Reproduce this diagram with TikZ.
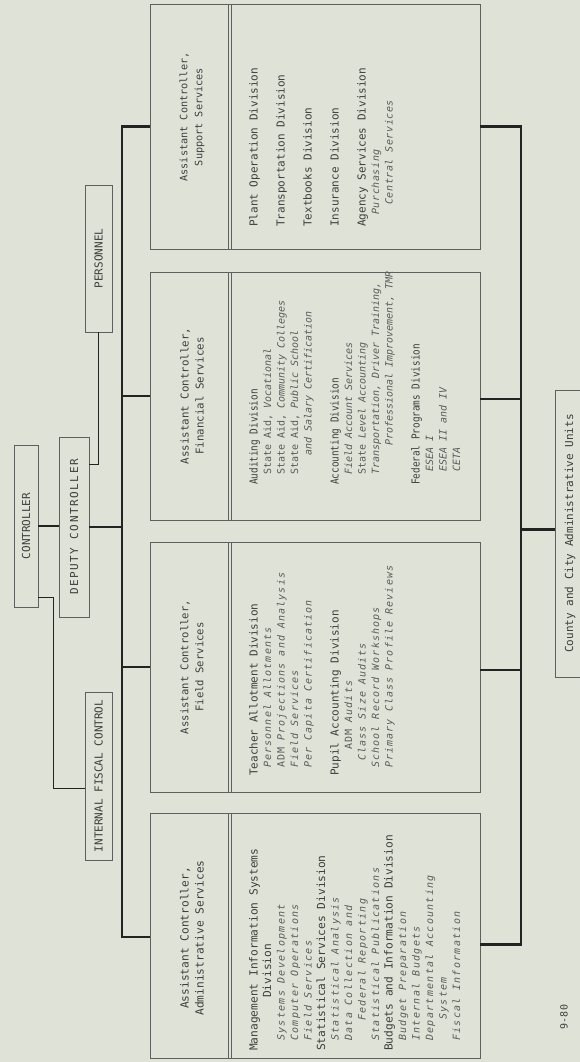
\documentclass[tikz,border=0pt]{standalone}
\usepackage{fontspec}
\usepackage{xcolor}
\usepackage{tikz}
\usetikzlibrary{calc}
\newfontfamily\tw{DejaVu Sans Mono}
\newfontfamily\twc[FakeStretch=0.85]{DejaVu Sans Mono}
\newfontfamily\tws[LetterSpace=14]{DejaVu Sans Mono}
\newfontfamily\twm[LetterSpace=6]{DejaVu Sans Mono}
\newfontfamily\twf[LetterSpace=11]{DejaVu Sans Mono}
\newfontfamily\twa[LetterSpace=13]{DejaVu Sans Mono}
\definecolor{paper}{RGB}{223,227,215}
\definecolor{ink}{RGB}{62,62,62}
\definecolor{boxline}{RGB}{95,95,95}
\definecolor{linkline}{RGB}{35,35,35}
\newcommand{\subfam}{\tw}
\newcommand{\subsize}{10}
\newcommand{\sub}[1]{{\subfam\fontsize{\subsize}{13.5}\selectfont\itshape\color{ink!85} #1}}
\newcommand{\gap}{13.5pt}
\tikzset{
  smallbox/.style={draw=boxline, fill=paper, line width=0.8pt, rotate=90, inner sep=0pt, outer sep=0pt,
    text=ink, font=\tw\fontsize{11}{13.5}\selectfont},
  abox/.style={draw=boxline, fill=paper, line width=0.8pt, rotate=90, minimum height=330pt, outer sep=0pt},
  divline/.style={draw=boxline, line width=0.8pt},
  titletext/.style={rotate=90, align=center, inner sep=0pt, text=ink},
  divtext/.style={rotate=90, align=left, anchor=north west, inner sep=0pt, text=ink},
  mainlink/.style={draw=linkline, line width=2.4pt},
  midlink/.style={draw=linkline, line width=1.6pt},
  sidelink/.style={draw=linkline, line width=0.9pt},
}
\begin{document}
\begin{tikzpicture}[x=1pt,y=-1pt]
        \fill[paper] (0,0) rectangle (580,1062);
        \useasboundingbox (0,0) rectangle (580,1062);
        \clip (0,0) rectangle (580,1062);
        \node[smallbox, minimum width=162pt, minimum height=24pt] (ctrl) at (26,526) {CONTROLLER};
        \node[smallbox, minimum width=180pt, minimum height=30pt, font=\tws\fontsize{11}{13.5}\selectfont] (dep) at (74,527) {DEPUTY CONTROLLER};
        \node[smallbox, minimum width=147pt, minimum height=27pt] (pers) at (98.5,258.5) {PERSONNEL};
        \node[smallbox, minimum width=168pt, minimum height=27pt] (ifc) at (98.5,776) {INTERNAL FISCAL CONTROL};
        \node[smallbox, minimum width=287pt, minimum height=30pt] (cnty) at (570,533.5) {County and City Administrative Units};
        \coordinate (lbus) at (122,0);
        \coordinate (rbus) at (521,0);
        \node[abox, minimum width=245pt] (sup) at (315,126.5) {};
        \node[abox, minimum width=248pt] (fin) at (315,396) {};
        \node[abox, minimum width=250pt] (fld) at (315,667) {};
        \node[abox, minimum width=245pt] (adm) at (315,935.5) {};
        \draw[divline] ([xshift=78pt]sup.north west) -- ([xshift=78pt]sup.north east);
        \draw[divline] ([xshift=81pt]sup.north west) -- ([xshift=81pt]sup.north east);
        \draw[divline] ([xshift=78pt]fin.north west) -- ([xshift=78pt]fin.north east);
        \draw[divline] ([xshift=81pt]fin.north west) -- ([xshift=81pt]fin.north east);
        \draw[divline] ([xshift=78pt]fld.north west) -- ([xshift=78pt]fld.north east);
        \draw[divline] ([xshift=81pt]fld.north west) -- ([xshift=81pt]fld.north east);
        \draw[divline] ([xshift=78pt]adm.north west) -- ([xshift=78pt]adm.north east);
        \draw[divline] ([xshift=81pt]adm.north west) -- ([xshift=81pt]adm.north east);
        \node[titletext, font=\tw\fontsize{10.2}{15}\selectfont] (supT) at (192,117) {Assistant Controller,\\Support Services};
        \node[titletext, font=\tw\fontsize{10.8}{15}\selectfont] (finT) at (192,396) {Assistant Controller,\\Financial Services};
        \node[titletext, font=\tw\fontsize{10.6}{15}\selectfont] (fldT) at (192,667) {Assistant Controller,\\Field Services};
        \node[titletext, font=\tw\fontsize{11.2}{15}\selectfont] (admT) at (192,938) {Assistant Controller,\\Administrative Services};
        \node[divtext, font={\tw\fontsize{11}{13.5}\selectfont\renewcommand{\subfam}{\twm}}] (supD) at (249,227) {%
          Plant Operation Division\\[\gap]
          Transportation Division\\[\gap]
          Textbooks Division\\[\gap]
          Insurance Division\\[\gap]
          Agency Services Division\\
          \sub{\hspace*{12pt}Purchasing}\\
          \sub{\hspace*{22pt}Central Services}};
        \node[divtext, font={\twc\fontsize{11}{13.5}\selectfont}] (finD) at (249,485) {%
          Auditing Division\\
          \sub{\hspace*{10pt}\textup{State Aid,} Vocational}\\
          \sub{\hspace*{10pt}\textup{State Aid,} Community Colleges}\\
          \sub{\hspace*{10pt}\textup{State Aid,} Public School}\\
          \sub{\hspace*{29pt}and Salary Certification}\\[\gap]
          Accounting Division\\
          \sub{\hspace*{10pt}Field Account Services}\\
          \sub{\hspace*{10pt}\textup{State} Level Accounting}\\
          \sub{\hspace*{10pt}Transportation, Driver Training,}\\
          \sub{\hspace*{39pt}Professional Improvement, TMR}\\[\gap]
          Federal Programs Division\\
          \sub{\hspace*{13pt}ESEA I}\\
          \sub{\hspace*{13pt}ESEA II and IV}\\
          \sub{\hspace*{13pt}CETA}};
        \node[divtext, font={\tw\fontsize{11}{13.5}\selectfont\renewcommand{\subfam}{\twf}}] (fldD) at (249,776) {%
          Teacher Allotment Division\\
          \sub{\hspace*{8pt}Personnel Allotments}\\
          \sub{\hspace*{8pt}\textup{ADM} Projections and Analysis}\\
          \sub{\hspace*{8pt}Field Services}\\
          \sub{\hspace*{8pt}Per Capita Certification}\\[\gap]
          Pupil Accounting Division\\
          \sub{\hspace*{26pt}\textup{ADM} Audits}\\
          \sub{\hspace*{15pt}Class Size Audits}\\
          \sub{\hspace*{8pt}School Record Workshops}\\
          \sub{\hspace*{8pt}Primary Class Profile Reviews}};
        \node[divtext, font={\tw\fontsize{11.2}{13.5}\selectfont\renewcommand{\subfam}{\twa}}] (admD) at (249,1051) {%
          Management Information Systems\\
          \hspace*{53pt}Division\\
          \sub{\hspace*{10pt}Systems Development}\\
          \sub{\hspace*{10pt}Computer Operations}\\
          \sub{\hspace*{10pt}Field Services}\\
          Statistical Services Division\\
          \sub{\hspace*{10pt}Statistical Analysis}\\
          \sub{\hspace*{10pt}Data Collection and}\\
          \sub{\hspace*{30pt}Federal Reporting}\\
          \sub{\hspace*{10pt}Statistical Publications}\\
          Budgets and Information Division\\
          \sub{\hspace*{10pt}Budget Preparation}\\
          \sub{\hspace*{10pt}Internal Budgets}\\
          \sub{\hspace*{10pt}Departmental Accounting}\\
          \sub{\hspace*{31pt}System}\\
          \sub{\hspace*{10pt}Fiscal Information}};
        \node[rotate=90, inner sep=0pt, text=ink, font=\tw\fontsize{10}{12}\selectfont] (page) at (564,1017) {9-80};
        \draw[midlink] (ctrl.south) -- (ctrl.south -| dep.north);
        \draw[sidelink] ($(ctrl.south)+(0,71)$) -- ++(15,0) |- ($(ifc.north)+(0,12)$);
        \draw[sidelink] ($(dep.south)+(0,-63)$) -| (pers.west);
        \draw[mainlink] (dep.south) -- (dep.south -| lbus);
        \draw[mainlink] (sup.north) -- (sup.north -| lbus) -- ($(adm.north -| lbus)+(0,1.5)$) -- ($(adm.north)+(0,1.5)$);
        \draw[mainlink] (fin.north -| lbus) -- (fin.north);
        \draw[mainlink] (fld.north -| lbus) -- (fld.north);
        \draw[mainlink] (sup.south) -- (sup.south -| rbus) -- ($(adm.south -| rbus)+(0,9)$) -- ($(adm.south)+(0,9)$);
        \draw[mainlink] ($(fin.south)+(0,3)$) -- ($(fin.south -| rbus)+(0,3)$);
        \draw[mainlink] ($(fld.south)+(0,3)$) -- ($(fld.south -| rbus)+(0,3)$);
        \draw[mainlink] ($(cnty.north -| rbus)+(0,-4)$) -- ($(cnty.north)+(0,-4)$);
    \end{tikzpicture}
\end{document}
